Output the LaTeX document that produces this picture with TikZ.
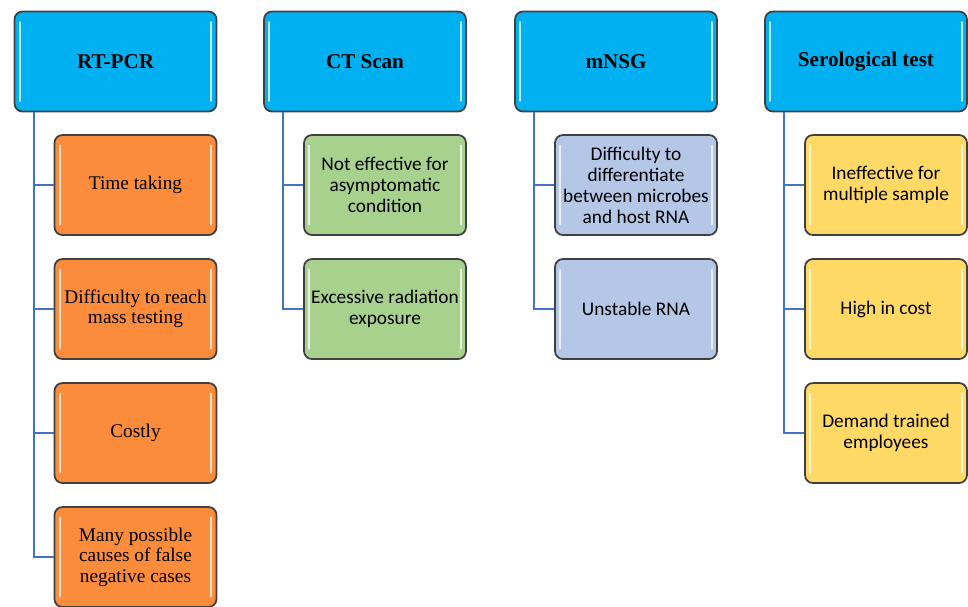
\documentclass[tikz,border=0pt]{standalone}
\usepackage{fontspec}
\setmainfont{Liberation Serif}
\newfontfamily\calibri{Carlito}
\usepackage{tikz}

\definecolor{headblue}{RGB}{0,176,240}
\definecolor{boxorange}{RGB}{250,140,60}
\definecolor{boxgreen}{RGB}{169,209,142}
\definecolor{boxblue}{RGB}{180,199,231}
\definecolor{boxyellow}{RGB}{255,217,102}
\definecolor{linkblue}{RGB}{68,114,196}
\definecolor{edgegray}{RGB}{64,64,64}

\tikzset{
  card/.style={draw=edgegray, line width=1pt, rounded corners=4.5pt, align=center, inner sep=2pt,
    path picture={
      \draw[white, opacity=.75, line width=1.2pt, line cap=round]
        ([xshift=3pt,yshift=-6pt]path picture bounding box.north west) -- ([xshift=3pt,yshift=6pt]path picture bounding box.south west);
      \draw[white, opacity=.75, line width=1.2pt, line cap=round]
        ([xshift=-3pt,yshift=-6pt]path picture bounding box.north east) -- ([xshift=-3pt,yshift=6pt]path picture bounding box.south east);
    }},
  head/.style={card, fill=headblue, minimum width=4.04cm, minimum height=2cm,
    font=\fontsize{12}{14}\selectfont\bfseries},
  item/.style={card, minimum width=3.24cm, minimum height=2cm},
  serifitem/.style={item, font=\fontsize{11}{11.6}\selectfont},
  sansitem/.style={item, font=\calibri\fontsize{11}{12}\selectfont},
  link/.style={draw=linkblue, line width=1pt},
}

\begin{document}
\begin{tikzpicture}[x=0.02cm, y=-0.02cm]
    \useasboundingbox (0,0) rectangle (968,606);

    \node[head] (rtpcr) at (115.5,61.5) {RT-PCR};
    \node[head] (ctscan) at (365,61.5) {CT Scan};
    \node[head] (mnsg) at (616,61.5) {mNSG};
    \node[head] (sero) at (866,61.5) {Serological test};

    \node[serifitem, fill=boxorange] (rt1) at (135.5,185) {Time taking};
    \node[serifitem, fill=boxorange] (rt2) at (135.5,309) {Difficulty to reach\\mass testing};
    \node[serifitem, fill=boxorange] (rt3) at (135.5,433) {Costly};
    \node[serifitem, fill=boxorange] (rt4) at (135.5,557) {Many possible\\causes of false\\negative cases};

    \node[sansitem, fill=boxgreen] (ct1) at (385,185) {Not effective for\\asymptomatic\\condition};
    \node[sansitem, fill=boxgreen] (ct2) at (385,309) {Excessive radiation\\exposure};

    \node[sansitem, fill=boxblue] (mn1) at (636,185) {Difficulty to\\differentiate\\between microbes\\and host RNA};
    \node[sansitem, fill=boxblue] (mn2) at (636,309) {Unstable RNA};

    \node[sansitem, fill=boxyellow] (se1) at (886,185) {Ineffective for\\multiple sample};
    \node[sansitem, fill=boxyellow] (se2) at (886,309) {High in cost};
    \node[sansitem, fill=boxyellow] (se3) at (886,433) {Demand trained\\employees};

    \draw[link] ([xshift=0.4cm]rtpcr.south west) |- (rt1.west);
    \draw[link] ([xshift=0.4cm]rtpcr.south west) |- (rt2.west);
    \draw[link] ([xshift=0.4cm]rtpcr.south west) |- (rt3.west);
    \draw[link] ([xshift=0.4cm]rtpcr.south west) |- (rt4.west);

    \draw[link] ([xshift=0.4cm]ctscan.south west) |- (ct1.west);
    \draw[link] ([xshift=0.4cm]ctscan.south west) |- (ct2.west);

    \draw[link] ([xshift=0.4cm]mnsg.south west) |- (mn1.west);
    \draw[link] ([xshift=0.4cm]mnsg.south west) |- (mn2.west);

    \draw[link] ([xshift=0.4cm]sero.south west) |- (se1.west);
    \draw[link] ([xshift=0.4cm]sero.south west) |- (se2.west);
    \draw[link] ([xshift=0.4cm]sero.south west) |- (se3.west);
\end{tikzpicture}
\end{document}
